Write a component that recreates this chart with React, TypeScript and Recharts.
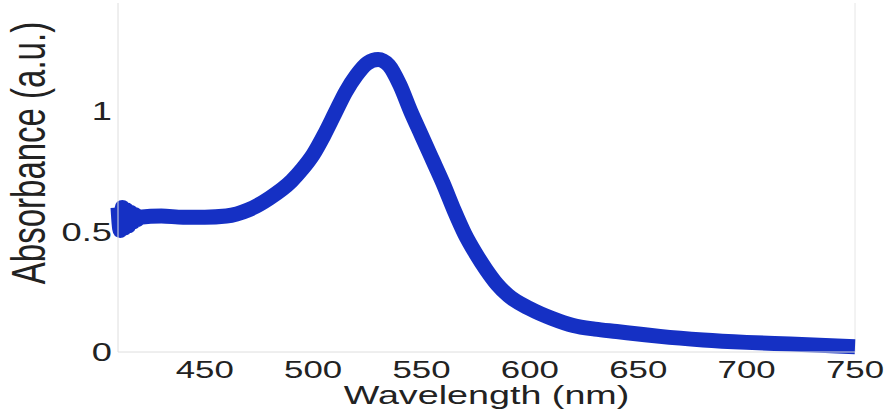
import { LineChart, Line, XAxis, YAxis, ReferenceLine } from "recharts";

// wavelength (nm) and absorbance (noisy start near 410 nm)
const wavelengths = [
  410, 411, 412, 413, 414, 415, 416, 417, 418, 419, 420, 430, 440, 450, 460, 470, 480, 490, 495, 500, 505, 510,
  515, 520, 525, 530, 535, 540, 545, 550, 555, 560, 565, 570, 575, 580, 585, 590, 600, 610, 620, 630, 640, 650,
  660, 680, 700, 720, 750,
];
const absorbance = [
  0.6, 0.505, 0.6, 0.515, 0.59, 0.525, 0.58, 0.54, 0.57, 0.55, 0.56, 0.565, 0.56, 0.56, 0.565, 0.59, 0.64, 0.71,
  0.76, 0.82, 0.9, 0.99, 1.08, 1.15, 1.2, 1.215, 1.19, 1.11, 1.0, 0.9, 0.8, 0.7, 0.59, 0.49, 0.41, 0.34, 0.28,
  0.235, 0.18, 0.14, 0.11, 0.095, 0.085, 0.075, 0.065, 0.05, 0.04, 0.033, 0.022,
];
const xTicks = [450, 500, 550, 600, 650, 700, 750];
const yTicks = [0, 0.5, 1];

const data = wavelengths.map((w, i) => ({ w, a: absorbance[i] }));

const FONT = "'Liberation Sans', Arial, Helvetica, sans-serif";
const INK = "#222";
const STRETCH = 1.45;

function XTick({ x, y, payload }: any) {
  return (
    <g transform={`translate(${x},${y + 24})`}>
      <text transform={`scale(${STRETCH},1)`} textAnchor="middle" fontSize={24} fill={INK} fontFamily={FONT}>
        {payload.value}
      </text>
    </g>
  );
}

function YTick({ y, payload }: any) {
  return (
    <g transform={`translate(112,${y + 9})`}>
      <text transform={`scale(${STRETCH},1)`} textAnchor="end" fontSize={25} fill={INK} fontFamily={FONT}>
        {payload.value}
      </text>
    </g>
  );
}

function XLabel({ viewBox }: any) {
  const cx = viewBox.x + viewBox.width / 2;
  return (
    <g transform={`translate(${cx},${viewBox.y + 52})`}>
      <text transform={`scale(${STRETCH},1)`} textAnchor="middle" fontSize={26} fill={INK} fontFamily={FONT}>
        Wavelength (nm)
      </text>
    </g>
  );
}

function YLabel({ viewBox }: any) {
  return (
    <g transform={`translate(${viewBox.x + 45},${viewBox.y + 150}) scale(${STRETCH},1) rotate(-90)`}>
      <text textAnchor="middle" fontSize={33} fill={INK} fontFamily={FONT}>
        Absorbance (a.u.)
      </text>
    </g>
  );
}

export default function App() {
  return (
    <div style={{ position: "absolute", left: 0, top: 0, background: "#fff" }}>
      <LineChart width={889} height={415} data={data} margin={{ top: 3, right: 34, bottom: 0, left: 0 }}>
        <XAxis
          dataKey="w"
          type="number"
          domain={[410, 750]}
          ticks={xTicks}
          tickLine={false}
          tickSize={0}
          axisLine={{ stroke: "#dedede" }}
          height={63}
          tick={<XTick />}
          label={{ content: <XLabel /> }}
        />
        <YAxis
          type="number"
          domain={[0, 1.45]}
          ticks={yTicks}
          tickLine={false}
          tickSize={0}
          axisLine={{ stroke: "#dedede" }}
          width={118}
          tick={<YTick />}
          label={{ content: <YLabel /> }}
        />
        <ReferenceLine x={750} stroke="#e6e6e6" />
        <Line
          type="monotone"
          dataKey="a"
          stroke="#1530c4"
          strokeWidth={15}
          strokeLinejoin="round"
          dot={false}
          isAnimationActive={false}
        />
      </LineChart>
    </div>
  );
}
